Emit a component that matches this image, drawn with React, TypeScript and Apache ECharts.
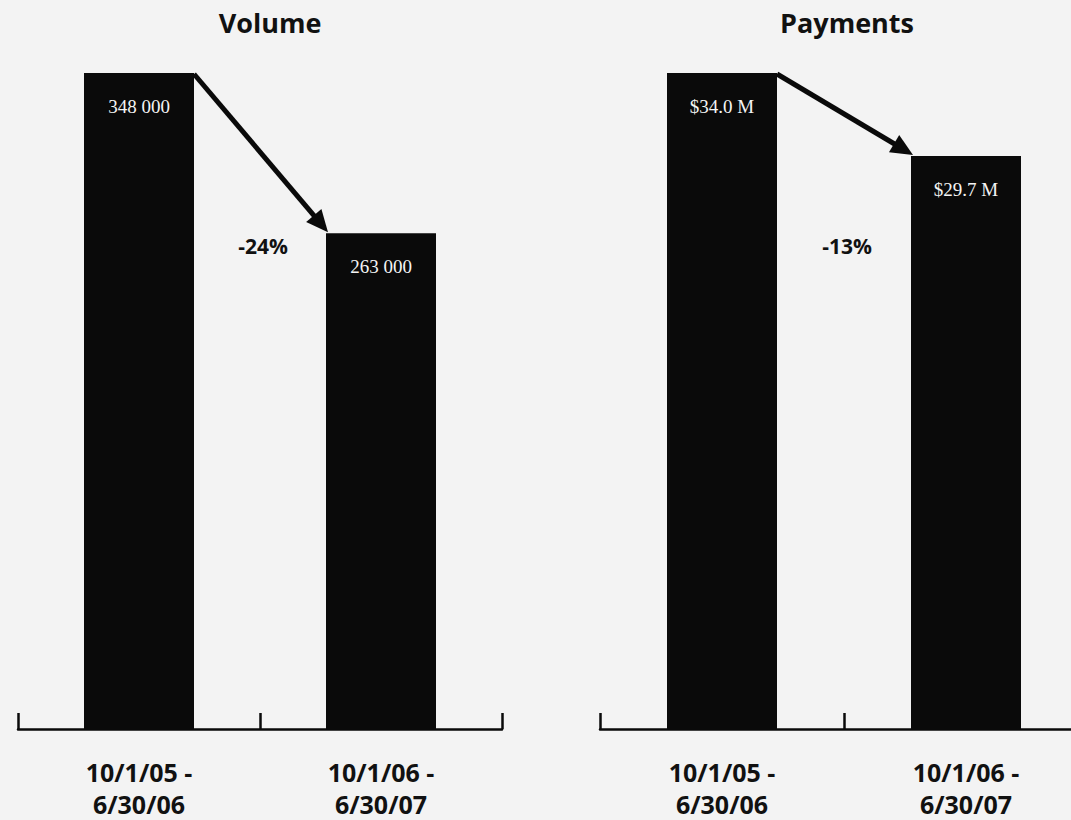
import React, { useEffect, useRef } from "react";
import * as echarts from "echarts";

const categories = ["10/1/05 -\n6/30/06", "10/1/06 -\n6/30/07"];
const volumeValues = [348000, 263000];
const paymentValues = [34.0, 29.7];
const panelTitles = ["Volume", "Payments"];
const changeLabels = ["-24%", "-13%"];

const BAR_W = 110;
const INK = "#0a0a0a";
const CANVAS_W = 1100;

const fmtVolume = (v: number) => String(v).replace(/\B(?=(\d{3})+(?!\d))/g, " ");
const fmtPayment = (v: number) => "$" + v.toFixed(1) + " M";

export default function App() {
  const ref = useRef<HTMLDivElement>(null);
  useEffect(() => {
    if (!ref.current) return;
    const chart = echarts.init(ref.current, null, { renderer: "svg" });
    const grids = [
      { left: 18, right: CANVAS_W - 502, top: 73, bottom: 88 },
      { left: 600, right: CANVAS_W - 1088, top: 73, bottom: 88 },
    ];
    const titleX = [270, 847];
    const datasets = [volumeValues, paymentValues];
    const formatters = [fmtVolume, fmtPayment];
    chart.setOption({
      animation: false,
      backgroundColor: "#f3f3f3",
      grid: grids,
      xAxis: grids.map((_, i) => ({
        type: "category",
        gridIndex: i,
        data: categories,
        boundaryGap: true,
        axisLine: { show: true, lineStyle: { color: INK, width: 2.5 } },
        axisTick: { show: true, inside: true, length: 16, lineStyle: { color: INK, width: 2.5 } },
        axisLabel: {
          color: "#111",
          fontFamily: "Open Sans",
          fontWeight: "bold",
          fontSize: 25,
          lineHeight: 32,
          margin: 27,
          interval: 0,
        },
      })),
      yAxis: grids.map((_, i) => ({
        type: "value",
        gridIndex: i,
        min: 0,
        max: Math.max(...datasets[i]),
        show: false,
        splitLine: { show: false },
      })),
      series: grids.map((_, i) => ({
        type: "bar",
        xAxisIndex: i,
        yAxisIndex: i,
        data: datasets[i],
        barWidth: BAR_W,
        itemStyle: { color: INK },
        label: {
          show: true,
          position: "insideTop",
          distance: 24,
          color: "#f4f4f4",
          fontFamily: "Liberation Serif",
          fontSize: 19,
          formatter: (p: any) => formatters[i](p.value),
        },
      })),
    });

    const graphics: any[] = [];
    grids.forEach((g, i) => {
      const data = datasets[i];
      const p1 = chart.convertToPixel({ gridIndex: i }, [0, data[0]]) as number[];
      const p2 = chart.convertToPixel({ gridIndex: i }, [1, data[1]]) as number[];
      graphics.push({
        type: "text",
        x: titleX[i],
        y: 22,
        style: {
          text: panelTitles[i],
          fontFamily: "Open Sans",
          fontWeight: "bold",
          fontSize: 27,
          fill: "#111",
          textAlign: "center",
          textVerticalAlign: "middle",
        },
      });
      const sx = p1[0] + BAR_W / 2;
      const sy = p1[1] + 1;
      const tx = p2[0] - BAR_W / 2 + 2;
      const ty = p2[1] - 1;
      const dx = tx - sx;
      const dy = ty - sy;
      const len = Math.sqrt(dx * dx + dy * dy);
      const ux = dx / len;
      const uy = dy / len;
      const L = 22;
      const W = 20;
      const bx = tx - ux * L;
      const by = ty - uy * L;
      const nx = -uy;
      const ny = ux;
      graphics.push({
        type: "line",
        shape: { x1: sx, y1: sy, x2: bx + ux * 2, y2: by + uy * 2 },
        style: { stroke: INK, lineWidth: 5 },
      });
      graphics.push({
        type: "polygon",
        shape: {
          points: [
            [tx, ty],
            [bx + (nx * W) / 2, by + (ny * W) / 2],
            [bx - (nx * W) / 2, by - (ny * W) / 2],
          ],
        },
        style: { fill: INK },
      });
      graphics.push({
        type: "text",
        x: (p1[0] + p2[0]) / 2 + 3,
        y: p1[1] + 173,
        style: {
          text: changeLabels[i],
          fontFamily: "Open Sans",
          fontWeight: "bold",
          fontSize: 21,
          fill: "#111",
          textAlign: "center",
          textVerticalAlign: "middle",
        },
      });
    });
    chart.setOption({ graphic: graphics });

    return () => chart.dispose();
  }, []);
  return (
    <div
      style={{
        position: "absolute",
        left: 0,
        top: 0,
        width: 1071,
        height: 820,
        overflow: "hidden",
      }}
    >
      <div ref={ref} style={{ width: CANVAS_W, height: 820 }} />
    </div>
  );
}
